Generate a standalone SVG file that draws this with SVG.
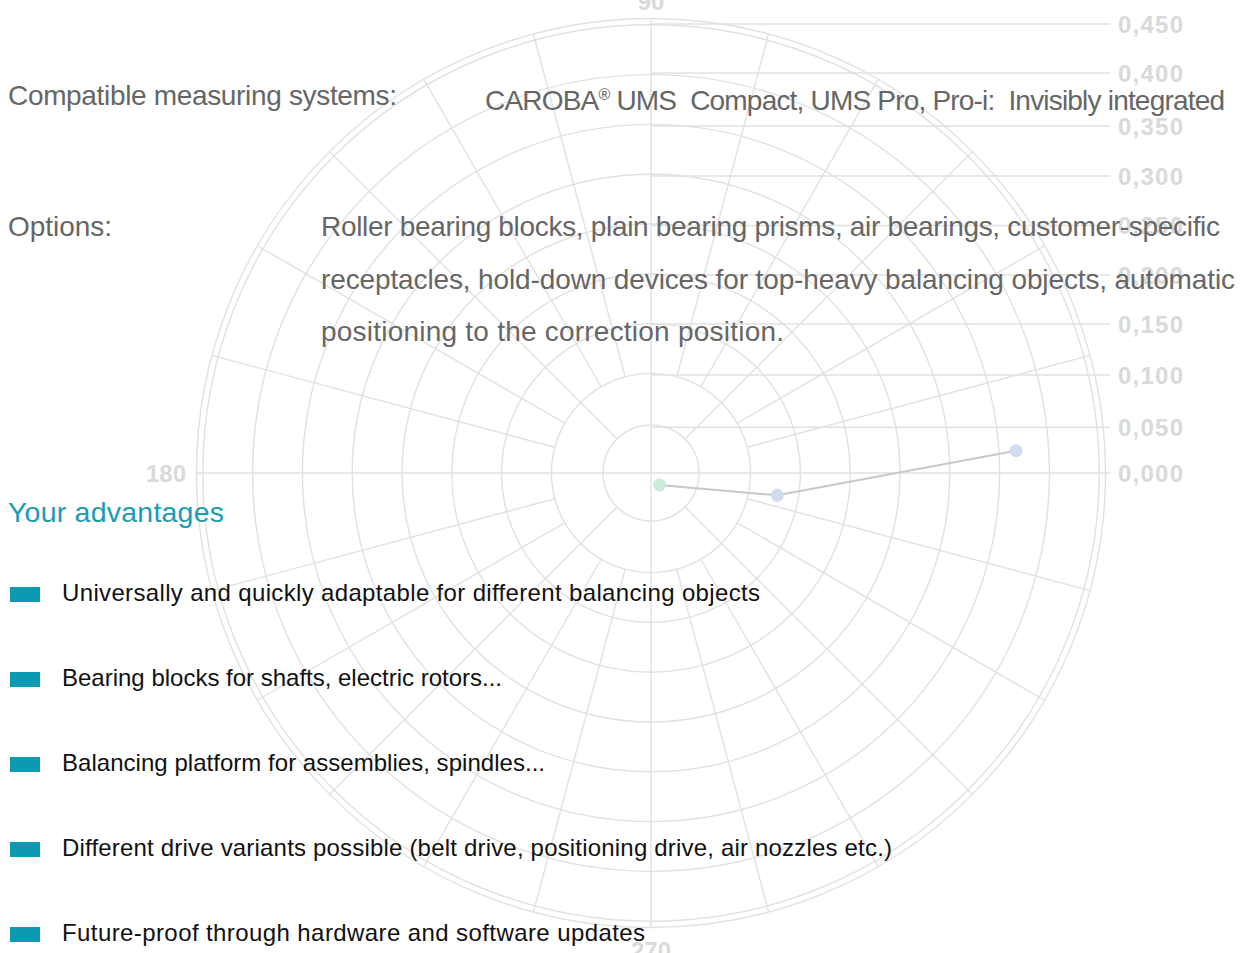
<svg xmlns="http://www.w3.org/2000/svg" width="1243" height="953" viewBox="0 0 1243 953">
<style>
.grid{fill:none;stroke:#e1e1e1;stroke-width:1.4}
.ax{font-family:"Liberation Sans",Arial,sans-serif;font-weight:bold;font-size:24px;fill:#d9d9d9}
.gt{font-family:"Liberation Sans",Arial,sans-serif;font-size:28px;fill:#666666}
.bt{font-family:"Liberation Sans",Arial,sans-serif;font-size:24px;fill:#111111}
.hd{font-family:"Liberation Sans",Arial,sans-serif;font-size:28.5px;fill:#1a9cb3}
.bul{fill:#0b9ab2}
</style>
<rect width="1243" height="953" fill="#ffffff"/>
<g id="polar-grid" class="grid" transform="translate(651,473)">
<circle r="48"/><circle r="99.6"/><circle r="149.4"/><circle r="199.2"/><circle r="249"/>
<circle r="298.8"/><circle r="348.6"/><circle r="398.4"/><circle r="448.2"/><circle r="454.5"/>
<line x1="-454.5" y1="0" x2="459" y2="0"/>
<line x1="0" y1="-454.5" x2="0" y2="454.5"/>
<line x1="0" y1="-45.7" x2="459" y2="-45.7"/>
<line x1="0" y1="-98" x2="459" y2="-98"/>
<line x1="0" y1="-149" x2="459" y2="-149"/>
<line x1="0" y1="-198" x2="459" y2="-198"/>
<line x1="0" y1="-247.5" x2="459" y2="-247.5"/>
<line x1="0" y1="-297" x2="459" y2="-297"/>
<line x1="0" y1="-347" x2="459" y2="-347"/>
<line x1="0" y1="-400" x2="459" y2="-400"/>
<line x1="0" y1="-449" x2="459" y2="-449"/>
<line x1="33.94" y1="-33.94" x2="321.38" y2="-321.38"/>
<line x1="-33.94" y1="-33.94" x2="-321.38" y2="-321.38"/>
<line x1="-33.94" y1="33.94" x2="-321.38" y2="321.38"/>
<line x1="33.94" y1="33.94" x2="321.38" y2="321.38"/>
<line x1="96.21" y1="-25.78" x2="439.02" y2="-117.63"/>
<line x1="86.26" y1="-49.8" x2="393.61" y2="-227.25"/>
<line x1="49.8" y1="-86.26" x2="227.25" y2="-393.61"/>
<line x1="25.78" y1="-96.21" x2="117.63" y2="-439.02"/>
<line x1="-96.21" y1="-25.78" x2="-439.02" y2="-117.63"/>
<line x1="-86.26" y1="-49.8" x2="-393.61" y2="-227.25"/>
<line x1="-49.8" y1="-86.26" x2="-227.25" y2="-393.61"/>
<line x1="-25.78" y1="-96.21" x2="-117.63" y2="-439.02"/>
<line x1="-96.21" y1="25.78" x2="-439.02" y2="117.63"/>
<line x1="-86.26" y1="49.8" x2="-393.61" y2="227.25"/>
<line x1="-49.8" y1="86.26" x2="-227.25" y2="393.61"/>
<line x1="-25.78" y1="96.21" x2="-117.63" y2="439.02"/>
<line x1="96.21" y1="25.78" x2="439.02" y2="117.63"/>
<line x1="86.26" y1="49.8" x2="393.61" y2="227.25"/>
<line x1="49.8" y1="86.26" x2="227.25" y2="393.61"/>
<line x1="25.78" y1="96.21" x2="117.63" y2="439.02"/>
</g>
<g id="axis-labels" class="ax">
<text x="651" y="10" text-anchor="middle">90</text>
<text x="186" y="482" text-anchor="end">180</text>
<text x="651" y="959" text-anchor="middle">270</text>
<text x="1118" y="481.5" textLength="65">0,000</text>
<text x="1118" y="436" textLength="65">0,050</text>
<text x="1118" y="383.5" textLength="65">0,100</text>
<text x="1118" y="332.5" textLength="65">0,150</text>
<text x="1118" y="283.5" textLength="65">0,200</text>
<text x="1118" y="234" textLength="65">0,250</text>
<text x="1118" y="184.5" textLength="65">0,300</text>
<text x="1118" y="134.5" textLength="65">0,350</text>
<text x="1118" y="81.5" textLength="65">0,400</text>
<text x="1118" y="32.5" textLength="65">0,450</text>
</g>
<g id="connectors">
<polyline points="659.5,485 777.3,495.3 1016,450.7" fill="none" stroke="#c8c8c8" stroke-width="2"/>
</g>
<g id="point-1"><circle cx="659.5" cy="485" r="6.5" fill="#cdebd9"/></g>
<g id="point-2"><circle cx="777.3" cy="495.3" r="6.5" fill="#d3dbef"/></g>
<g id="point-3"><circle cx="1016" cy="450.7" r="6.5" fill="#d3dbef"/></g>
<g id="info-text" class="gt">
<text x="8" y="105" textLength="389">Compatible measuring systems:</text>
<text x="485" y="110" textLength="740" xml:space="preserve" style="white-space:pre">CAROBA<tspan font-size="16" dy="-10">®</tspan><tspan dy="10"> UMS  Compact, UMS Pro, Pro-i:  Invisibly integrated</tspan></text>
<text x="8" y="236" textLength="104">Options:</text>
<text x="321" y="236" textLength="899">Roller bearing blocks, plain bearing prisms, air bearings, customer-specific</text>
<text x="321" y="288.5" textLength="914">receptacles, hold-down devices for top-heavy balancing objects, automatic</text>
<text x="321" y="341" textLength="463">positioning to the correction position.</text>
</g>
<g id="advantages">
<text class="hd" x="8" y="521.5" textLength="216">Your advantages</text>
<rect class="bul" x="10" y="587" width="30" height="15"/>
<text class="bt" x="62" y="601" textLength="698">Universally and quickly adaptable for different balancing objects</text>
<rect class="bul" x="10" y="672" width="30" height="15"/>
<text class="bt" x="62" y="686" textLength="440">Bearing blocks for shafts, electric rotors...</text>
<rect class="bul" x="10" y="757" width="30" height="15"/>
<text class="bt" x="62" y="771" textLength="483">Balancing platform for assemblies, spindles...</text>
<rect class="bul" x="10" y="842" width="30" height="15"/>
<text class="bt" x="62" y="856" textLength="830">Different drive variants possible (belt drive, positioning drive, air nozzles etc.)</text>
<rect class="bul" x="10" y="927" width="30" height="15"/>
<text class="bt" x="62" y="941" textLength="583">Future-proof through hardware and software updates</text>
</g>
</svg>
